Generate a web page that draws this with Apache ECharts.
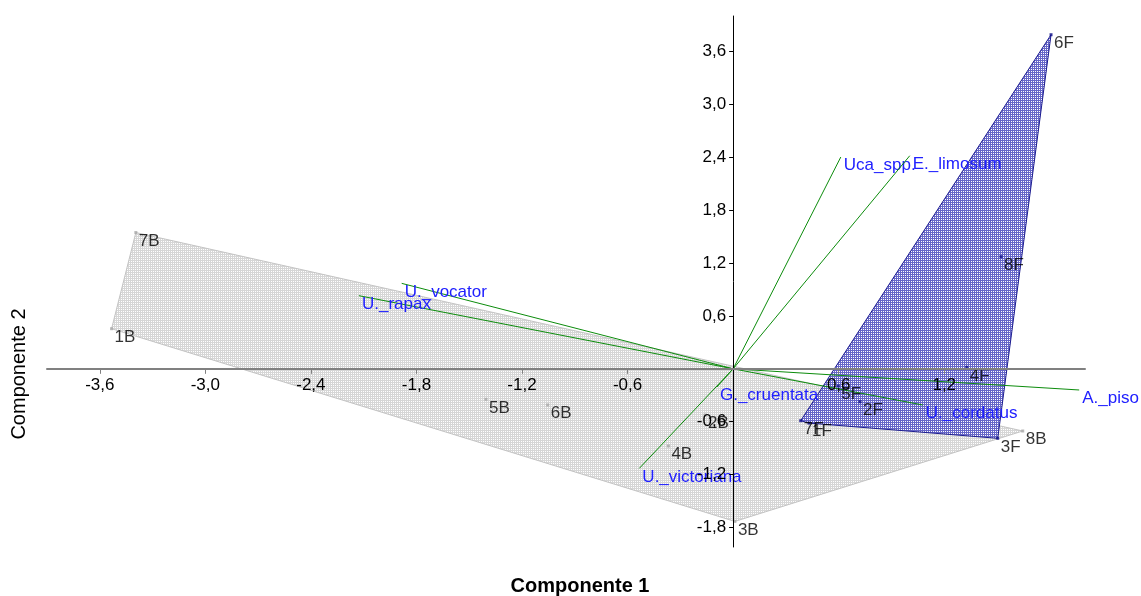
<!DOCTYPE html>
<html>
<head>
<meta charset="utf-8">
<title>Componente 1 / Componente 2</title>
<script src="https://cdn.jsdelivr.net/npm/echarts@6/dist/echarts.min.js"></script>
<style>
  html, body { margin: 0; padding: 0; background: #fff; }
  #chart { width: 1141px; height: 596px; }
</style>
</head>
<body>
<div id="chart"></div>
<script>
// Sample scores, group B
const samplesB = ['1B', '2B', '3B', '4B', '5B', '6B', '7B', '8B'];
const scoreBx = [-3.533, -0.160, 0.010, -0.368, -1.405, -1.054, -3.395, 1.646];
const scoreBy = [0.455, -0.524, -1.730, -0.875, -0.346, -0.410, 1.545, -0.705];

// Sample scores, group F
const samplesF = ['1F', '2F', '3F', '4F', '5F', '6F', '7F', '8F'];
const scoreFx = [0.431, 0.721, 1.504, 1.328, 0.598, 1.807, 0.384, 1.523];
const scoreFy = [-0.615, -0.373, -0.788, 0.017, -0.195, 3.788, -0.588, 1.271];

// Species loadings (biplot vectors from the origin)
const species = ['Uca_spp.', 'E._limosum', 'U._vocator', 'U._rapax', 'U._victoriana', 'G._cruentata', 'A._piso', 'U._cordatus'];
const loadX = [0.612, 1.004, -1.884, -2.127, -0.533, -0.092, 1.967, 1.078];
const loadY = [2.401, 2.416, 0.969, 0.829, -1.128, -0.206, -0.240, -0.410];

// Tick positions
const xTicks = [-3.6, -3.0, -2.4, -1.8, -1.2, -0.6, 0.6, 1.2];
const yTicks = [-1.8, -1.2, -0.6, 0.6, 1.2, 1.8, 2.4, 3.0, 3.6];

// Axis ranges
const xRange = [-3.9, 2.0];
const yRange = [-2.02, 4.0];

const FONT = '"Liberation Sans", Arial, sans-serif';
const W = 1141, H = 596;
const GRID = { left: 47, right: 56, top: 16, bottom: 49 };

function zip(xs, ys) { return xs.map((x, i) => [x, ys[i]]); }

// Convex hull (monotone chain)
function convexHull(pts) {
  const p = pts.slice().sort((a, b) => a[0] - b[0] || a[1] - b[1]);
  const cross = (o, a, b) => (a[0] - o[0]) * (b[1] - o[1]) - (a[1] - o[1]) * (b[0] - o[0]);
  const lower = [], upper = [];
  for (const q of p) {
    while (lower.length >= 2 && cross(lower[lower.length - 2], lower[lower.length - 1], q) <= 0) lower.pop();
    lower.push(q);
  }
  for (let i = p.length - 1; i >= 0; i--) {
    const q = p[i];
    while (upper.length >= 2 && cross(upper[upper.length - 2], upper[upper.length - 1], q) <= 0) upper.pop();
    upper.push(q);
  }
  upper.pop(); lower.pop();
  return lower.concat(upper);
}

// Fine mesh fill, as a repeating 2x2 tile
function meshPattern(lineColor) {
  const c = document.createElement('canvas');
  c.width = 2; c.height = 2;
  const g = c.getContext('2d');
  g.fillStyle = lineColor;
  g.fillRect(0, 0, 2, 2);
  g.fillStyle = '#ffffff';
  g.fillRect(1, 1, 1, 1);
  return { image: c, repeat: 'repeat' };
}

const ptsB = zip(scoreBx, scoreBy);
const ptsF = zip(scoreFx, scoreFy);
const hullB = convexHull(ptsB);
const hullF = convexHull(ptsF);

function hullSeries(hull, fill, stroke, z) {
  return {
    type: 'custom',
    z: z,
    silent: true,
    data: hull,
    renderItem: function (params, api) {
      if (params.dataIndex !== 0) return null;
      return {
        type: 'polygon',
        shape: { points: hull.map(p => api.coord(p)) },
        style: { fill: fill, stroke: stroke, lineWidth: 1 }
      };
    }
  };
}

function fmt(v) { return (Math.round(v * 10) / 10).toFixed(1).replace('.', ','); }

// The axes cross at the origin: shift each axis from the grid edge to zero
const gridW = W - GRID.left - GRID.right;
const gridH = H - GRID.top - GRID.bottom;
const xAxisShift = -gridH * (0 - yRange[0]) / (yRange[1] - yRange[0]);
const yAxisShift = -gridW * (0 - xRange[0]) / (xRange[1] - xRange[0]);

const chart = echarts.init(document.getElementById('chart'), null, { renderer: 'canvas' });

chart.setOption({
  animation: false,
  backgroundColor: '#ffffff',
  grid: Object.assign({ containLabel: false }, GRID),
  xAxis: {
    type: 'value',
    min: xRange[0],
    max: xRange[1],
    position: 'bottom',
    offset: xAxisShift,
    z: 20,
    axisLine: { onZero: false, lineStyle: { color: '#808080', width: 2 } },
    axisTick: { show: true, length: 5, customValues: xTicks, lineStyle: { color: '#808080' } },
    axisLabel: { customValues: xTicks, formatter: fmt, margin: 8, color: '#000', fontSize: 17, fontFamily: FONT },
    splitLine: { show: false }
  },
  yAxis: {
    type: 'value',
    min: yRange[0],
    max: yRange[1],
    position: 'left',
    offset: yAxisShift,
    z: 20,
    axisLine: { onZero: false, lineStyle: { color: '#000', width: 1 } },
    axisTick: { show: true, length: 4, customValues: yTicks, lineStyle: { color: '#000' } },
    axisLabel: { customValues: yTicks, formatter: fmt, margin: 7, color: '#000', fontSize: 17, fontFamily: FONT },
    splitLine: { show: false }
  },
  graphic: [
    {
      type: 'text', x: 580, y: 586, z: 30,
      style: { text: 'Componente 1', font: 'bold 20px ' + FONT, fill: '#000', align: 'center', verticalAlign: 'middle' }
    },
    {
      type: 'text', x: 19, y: 374, rotation: Math.PI / 2, z: 30,
      style: { text: 'Componente 2', font: '20px ' + FONT, fill: '#000', align: 'center', verticalAlign: 'middle' }
    }
  ],
  series: [
    hullSeries(hullB, meshPattern('#d6d6d6'), '#c4c4c4', 1),
    hullSeries(hullF, meshPattern('#6666c8'), '#1c1c90', 2),
    {
      type: 'custom',
      z: 5,
      silent: true,
      data: zip(loadX, loadY),
      renderItem: function (params, api) {
        const o = api.coord([0, 0]);
        const e = api.coord([api.value(0), api.value(1)]);
        return {
          type: 'group',
          children: [
            { type: 'line', shape: { x1: o[0], y1: o[1], x2: e[0], y2: e[1] }, style: { stroke: '#0c8c0c', lineWidth: 1 } },
            { type: 'text', x: e[0] + 3, y: e[1], style: { text: species[params.dataIndex], font: '17px ' + FONT, fill: '#2020ff', align: 'left', verticalAlign: 'top' } }
          ]
        };
      }
    },
    {
      type: 'scatter',
      z: 6,
      silent: true,
      symbol: 'rect',
      symbolSize: 3,
      itemStyle: { color: '#a8a8a8' },
      data: ptsB.map((p, i) => ({ name: samplesB[i], value: p })),
      label: { show: true, formatter: '{b}', position: [4.5, 1.5], align: 'left', verticalAlign: 'top', color: '#000', fontSize: 17, fontFamily: FONT }
    },
    {
      type: 'scatter',
      z: 6,
      silent: true,
      symbol: 'rect',
      symbolSize: 3,
      itemStyle: { color: '#10108a' },
      data: ptsF.map((p, i) => ({ name: samplesF[i], value: p })),
      label: { show: true, formatter: '{b}', position: [4.5, 1.5], align: 'left', verticalAlign: 'top', color: '#000', fontSize: 17, fontFamily: FONT }
    }
  ]
});
</script>
</body>
</html>
